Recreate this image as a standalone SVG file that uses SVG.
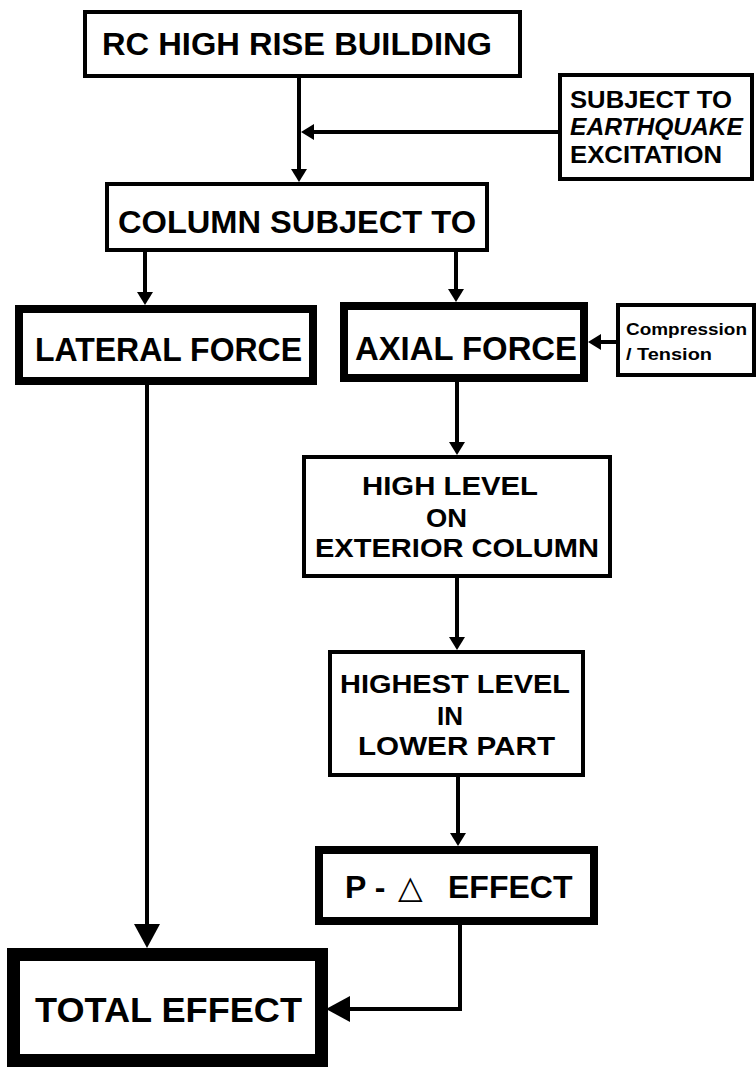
<svg xmlns="http://www.w3.org/2000/svg" width="756" height="1067" viewBox="0 0 756 1067">
<style>
.box{fill:#fff;stroke:#000;stroke-width:4}
.thick{fill:#fff;stroke:#000;stroke-width:8}
.xthick{fill:#fff;stroke:#000;stroke-width:13}
.t{font-family:"Liberation Sans",Arial,sans-serif;font-weight:bold;fill:#000}
.c{fill:none;stroke:#000;stroke-width:4}
</style>
<defs>
<marker id="ah" viewBox="0 0 13 16" refX="0" refY="8" markerWidth="13" markerHeight="16" orient="auto" markerUnits="userSpaceOnUse"><path d="M0,0 L13,8 L0,16 z" fill="#000"/></marker>
<marker id="ahL" viewBox="0 0 24 26" refX="0" refY="13" markerWidth="24" markerHeight="26" orient="auto" markerUnits="userSpaceOnUse"><path d="M0,0 L24,13 L0,26 z" fill="#000"/></marker>
</defs>
<g id="connectors">
<path class="c" d="M299,76 V169" marker-end="url(#ah)"/>
<path class="c" d="M558,132 H314" marker-end="url(#ah)"/>
<path class="c" d="M145,252 V292" marker-end="url(#ah)"/>
<path class="c" d="M456,252 V289" marker-end="url(#ah)"/>
<path class="c" d="M616,342 H601" marker-end="url(#ah)"/>
<path class="c" d="M457,382 V442" marker-end="url(#ah)"/>
<path class="c" d="M457,578 V637" marker-end="url(#ah)"/>
<path class="c" d="M458,777 V833" marker-end="url(#ah)"/>
<path class="c" d="M147,385 V924" marker-end="url(#ahL)"/>
<path class="c" d="M460,925 V1009 H350" marker-end="url(#ahL)"/>
</g>
<g id="rc-building">
<rect class="box" x="85" y="12" width="435" height="64"/>
<text class="t" x="102" y="55" font-size="31" textLength="390" lengthAdjust="spacingAndGlyphs">RC HIGH RISE BUILDING</text>
</g>
<g id="earthquake">
<rect class="box" x="560" y="75" width="192" height="104"/>
<text class="t" x="570" y="108" font-size="23" textLength="162" lengthAdjust="spacingAndGlyphs">SUBJECT TO</text>
<text class="t" x="570" y="135" font-size="23" font-style="italic" textLength="173" lengthAdjust="spacingAndGlyphs">EARTHQUAKE</text>
<text class="t" x="570" y="163" font-size="23" textLength="152" lengthAdjust="spacingAndGlyphs">EXCITATION</text>
</g>
<g id="column">
<rect class="box" x="107" y="184" width="380" height="66"/>
<text class="t" x="118" y="233" font-size="31" textLength="358" lengthAdjust="spacingAndGlyphs">COLUMN SUBJECT TO</text>
</g>
<g id="lateral">
<rect class="thick" x="19" y="309" width="294" height="72"/>
<text class="t" x="35" y="361" font-size="33" textLength="267" lengthAdjust="spacingAndGlyphs">LATERAL FORCE</text>
</g>
<g id="axial">
<rect class="thick" x="344" y="306" width="240" height="72"/>
<text class="t" x="355" y="360" font-size="33" textLength="222" lengthAdjust="spacingAndGlyphs">AXIAL FORCE</text>
</g>
<g id="compression">
<rect class="box" x="618" y="305" width="136" height="70"/>
<text class="t" x="626" y="335" font-size="17" textLength="121" lengthAdjust="spacingAndGlyphs">Compression</text>
<text class="t" x="626" y="360" font-size="17" textLength="86" lengthAdjust="spacingAndGlyphs">/ Tension</text>
</g>
<g id="high-level">
<rect class="box" x="304" y="457" width="306" height="119"/>
<text class="t" x="362" y="495" font-size="26" textLength="176" lengthAdjust="spacingAndGlyphs">HIGH LEVEL</text>
<text class="t" x="426" y="527" font-size="26" textLength="41" lengthAdjust="spacingAndGlyphs">ON</text>
<text class="t" x="315" y="557" font-size="26" textLength="284" lengthAdjust="spacingAndGlyphs">EXTERIOR COLUMN</text>
</g>
<g id="highest-level">
<rect class="box" x="330" y="652" width="253" height="123"/>
<text class="t" x="340" y="693" font-size="26" textLength="230" lengthAdjust="spacingAndGlyphs">HIGHEST LEVEL</text>
<text class="t" x="437" y="725" font-size="26" textLength="26" lengthAdjust="spacingAndGlyphs">IN</text>
<text class="t" x="358" y="755" font-size="26" textLength="197" lengthAdjust="spacingAndGlyphs">LOWER PART</text>
</g>
<g id="p-delta">
<rect class="thick" x="319" y="850" width="275" height="71"/>
<text class="t" font-size="32" y="898"><tspan x="345">P -</tspan><tspan x="398" font-family="'DejaVu Sans',sans-serif" font-weight="normal">△</tspan><tspan x="448">EFFECT</tspan></text>
</g>
<g id="total">
<rect class="xthick" x="13.5" y="954.5" width="308" height="106"/>
<text class="t" x="35" y="1022" font-size="35" textLength="267" lengthAdjust="spacingAndGlyphs">TOTAL EFFECT</text>
</g>
</svg>
